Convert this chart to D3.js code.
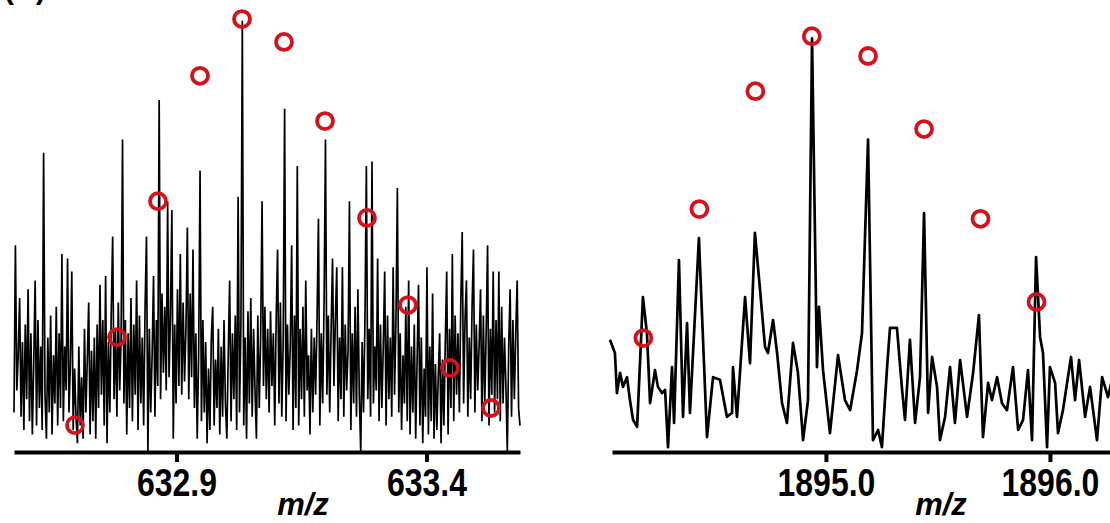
<!DOCTYPE html>
<head>
  <meta charset="utf-8">
  <script src="https://d3js.org/d3.v7.min.js"></script>
  <style>
  body,html {background:#fff; margin:0;}
  svg {display:block; font-family:"Liberation Sans", Arial, sans-serif;}
  .axis path, .axis line {stroke:#000; stroke-width:4;}
  .axis text {font-size:32px; font-weight:bold; fill:#000;}
  .xlabel {font-size:31px; font-weight:bold; font-style:italic;}
  .title {font-size:30px; font-weight:bold;}
</style>
</head>

<body>
<svg></svg>

<script>

  const width = 1110;
  const height = 523;

  // left spectrum: uniformly sampled, start m/z and step
  const leftStart = 632.575;
  const leftStep = 0.0028189;
  const leftIntensity = [
    9, 47, 14, 22, 35, 8, 25, 5, 29, 12, 37, 7, 27, 4, 20, 39, 6, 30, 10, 24,
    5, 68, 13, 3, 26, 9, 31, 4, 22, 11, 33, 6, 27, 10, 45, 7, 24, 14, 44, 9,
    20, 41, 5, 19, 8, 2, 24, 6, 17, 3, 28, 9, 21, 34, 4, 23, 7, 26, 3, 29,
    10, 38, 13, 30, 6, 40, 2, 25, 9, 32, 49, 12, 28, 8, 34, 14, 26, 71, 11, 30,
    4, 27, 10, 35, 7, 29, 13, 39, 5, 31, 11, 26, 6, 33, 49, 0, 28, 9, 22, 40,
    8, 30, 15, 80, 12, 36, 18, 33, 14, 57, 17, 31, 55, 3, 29, 11, 37, 15, 45, 13,
    34, 16, 28, 51, 12, 36, 17, 46, 10, 27, 3, 22, 64, 7, 30, 9, 25, 2, 19, 5,
    26, 33, 6, 21, 10, 28, 4, 24, 8, 30, 11, 3, 22, 39, 7, 27, 12, 31, 5, 58,
    9, 29, 98, 6, 26, 3, 32, 11, 35, 8, 28, 14, 3, 31, 10, 26, 57, 15, 33, 12,
    28, 9, 32, 15, 27, 6, 30, 46, 11, 34, 8, 25, 78, 7, 29, 13, 24, 47, 5, 31,
    10, 65, 6, 28, 12, 33, 8, 39, 14, 22, 4, 28, 9, 26, 13, 30, 53, 6, 27, 11,
    34, 71, 13, 31, 9, 28, 44, 15, 30, 42, 7, 26, 12, 42, 8, 29, 14, 23, 57, 5,
    27, 11, 33, 8, 37, 13, 0, 25, 9, 30, 65, 12, 28, 8, 66, 11, 24, 14, 44, 7,
    29, 10, 24, 41, 6, 31, 12, 26, 8, 42, 13, 30, 60, 9, 27, 5, 22, 11, 33, 7,
    39, 4, 24, 9, 29, 3, 21, 38, 6, 26, 2, 19, 8, 42, 4, 24, 7, 36, 3, 20,
    5, 17, 27, 2, 21, 6, 25, 41, 4, 28, 10, 45, 7, 31, 13, 27, 9, 34, 50, 11,
    30, 39, 8, 26, 12, 33, 46, 9, 29, 14, 24, 37, 7, 31, 11, 27, 47, 6, 28, 13,
    41, 9, 30, 12, 41, 7, 33, 11, 26, 15, 0, 24, 37, 8, 30, 12, 27, 39, 10, 6
  ];
  const leftPatternMz = [632.697, 632.781, 632.863, 632.947, 633.031, 633.115, 633.197, 633.281, 633.363, 633.447, 633.529];
  const leftPatternInt = [6.1, 26.1, 57, 85.5, 98.4, 93.2, 75.2, 53.2, 33.4, 19.1, 10];
  const leftTicks = [632.9, 633.4];

  // right spectrum
  const rightMz = [
    1894.036, 1894.058, 1894.067, 1894.081, 1894.094, 1894.112, 1894.125, 1894.139, 1894.157, 1894.166,
    1894.183, 1894.201, 1894.215, 1894.237, 1894.250, 1894.268, 1894.282, 1894.295, 1894.313, 1894.322,
    1894.344, 1894.362, 1894.380, 1894.393, 1894.433, 1894.469, 1894.496, 1894.527, 1894.558, 1894.581,
    1894.585, 1894.603, 1894.639, 1894.661, 1894.683, 1894.706, 1894.728, 1894.741, 1894.764, 1894.782,
    1894.804, 1894.826, 1894.853, 1894.875, 1894.898, 1894.920, 1894.938, 1894.960, 1894.969, 1894.987,
    1895.018, 1895.054, 1895.085, 1895.108, 1895.139, 1895.161, 1895.188, 1895.210, 1895.233, 1895.250,
    1895.273, 1895.286, 1895.317, 1895.340, 1895.353, 1895.375, 1895.398, 1895.420, 1895.438, 1895.456,
    1895.474, 1895.496, 1895.509, 1895.532, 1895.554, 1895.576, 1895.599, 1895.630, 1895.657, 1895.683,
    1895.701, 1895.724, 1895.741, 1895.764, 1895.786, 1895.808, 1895.835, 1895.858, 1895.880, 1895.902,
    1895.920, 1895.938, 1895.956, 1895.969, 1895.987, 1896.000, 1896.023, 1896.036, 1896.058, 1896.094,
    1896.112, 1896.130, 1896.157, 1896.179, 1896.210, 1896.233, 1896.259, 1896.277
  ];
  const rightIntensity = [
    25.5, 22.5, 13.4, 18, 14.8, 17, 11.8, 7.3, 5.7, 15.7,
    35.2, 27, 11.1, 18.6, 14.8, 13.4, 14.1, 1.1, 19.3, 6.6,
    43.6, 8, 29.3, 8.9, 48.6, 3.4, 17, 16.4, 8, 8.9,
    19.3, 8, 35.2, 20.2, 49.8, 36.8, 23.9, 22.5, 30, 22.5,
    11.1, 6.6, 24.8, 18, 2.7, 11.8, 94, 19.3, 33, 18.6,
    4.3, 22, 11.8, 9.5, 18.6, 27, 71, 2.7, 5, 1.1,
    19.3, 28.2, 28.2, 14.1, 7.3, 25.5, 6.6, 17, 54.3, 8.9,
    21.6, 14.8, 2.7, 8, 19.3, 6.6, 20.9, 8, 18, 31.1,
    3.4, 15.7, 11.8, 17, 11.1, 9.5, 19.3, 5, 7.3, 18.6,
    2.7, 44.3, 26.1, 22.5, 1.1, 19.3, 15.7, 4.3, 9.5, 21.6,
    11.8, 20.9, 8, 14.8, 2.7, 17, 12.5, 16.4
  ];
  const rightPatternMz = [1894.185, 1894.435, 1894.685, 1894.937, 1895.188, 1895.438, 1895.690, 1895.940];
  const rightPatternInt = [25.9, 55.2, 82, 94.5, 90, 73.4, 53, 34.1];
  const rightTicks = [1895.0, 1896.0];

  let svg = d3.select("svg")
    .attr("width", width)
    .attr("height", height);

  const y = d3.scaleLinear().domain([0, 100]).range([452, 12]);
  const xLeft = d3.scaleLinear().domain([632.575, 633.587]).range([14, 520]);
  const xRight = d3.scaleLinear().domain([1894.045, 1896.277]).range([612, 1112]);

  const leftData = leftIntensity.map((v, i) => [leftStart + i * leftStep, v]);
  const rightData = rightMz.map((m, i) => [m, rightIntensity[i]]);

  function drawPanel(x, data, patMz, patInt, ticks, lw, labelX) {
    let line = d3.line().x(d => x(d[0])).y(d => y(d[1]));

    svg.append("path")
      .datum(data)
      .attr("d", line)
      .attr("fill", "none")
      .attr("stroke", "#000")
      .attr("stroke-width", lw)
      .attr("stroke-linejoin", lw > 2 ? "round" : "miter");

    svg.append("g")
      .attr("class", "axis")
      .attr("transform", "translate(0,452)")
      .call(d3.axisBottom(x).tickValues(ticks).tickFormat(d3.format(".1f"))
        .tickSize(10).tickSizeOuter(0).tickPadding(4))
      .call(g => g.selectAll("text").attr("font-family", null)
        .attr("transform", "scale(1,1.2)"));

    svg.append("g")
      .selectAll("circle")
      .data(patMz)
      .enter()
      .append("circle")
      .attr("cx", d => x(d))
      .attr("cy", (d, i) => y(patInt[i]))
      .attr("r", 8)
      .attr("fill", "none")
      .attr("stroke", "#d3121b")
      .attr("stroke-width", 3.8);

    svg.append("text")
      .attr("class", "xlabel")
      .attr("x", labelX)
      .attr("y", 515)
      .attr("text-anchor", "middle")
      .text("m/z");
  }

  drawPanel(xLeft, leftData, leftPatternMz, leftPatternInt, leftTicks, 1.7, 303);
  drawPanel(xRight, rightData, rightPatternMz, rightPatternInt, rightTicks, 2.7, 941);

  // title, mostly cut off at the top edge
  svg.append("text")
    .attr("class", "title")
    .attr("x", 4)
    .attr("y", -1)
    .text("(A)");

</script>
</body>
